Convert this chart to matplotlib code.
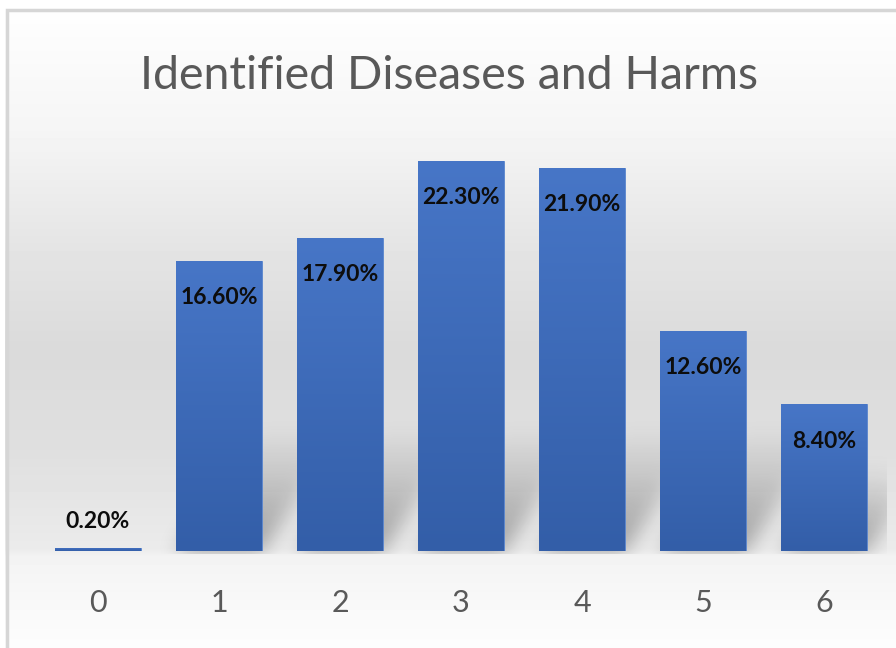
import numpy as np
import matplotlib
matplotlib.use("Agg")
import matplotlib.pyplot as plt
from matplotlib.patches import Rectangle

# ---- data ----
categories = ["0", "1", "2", "3", "4", "5", "6"]
values = [0.2, 16.6, 17.9, 22.3, 21.9, 12.6, 8.4]
value_labels = ["0.20%", "16.60%", "17.90%", "22.30%", "21.90%", "12.60%", "8.40%"]
title = "Identified Diseases and Harms"

W, H, DPI = 896, 648, 100
fig = plt.figure(figsize=(W / DPI, H / DPI), dpi=DPI)
fig.patch.set_facecolor("white")

# ---- main axes ----
ax = fig.add_axes([37.5 / W, (H - 551) / H, 847 / W, 437.25 / H])
ax.set_facecolor("none")
x = np.arange(len(categories))
ax.set_xlim(-0.5, len(categories) - 0.5)
ax.set_ylim(0, 25)
bar_w = 0.71

# ---- background: chart-area gradient and floor ----
rows = np.arange(H, dtype=float)
stops_y = [0, 10, 130, 250, 350, 450, 549, 556, 600, 648]
stops_v = [255, 255, 246, 229, 219, 224, 236, 244, 249, 254]
col = np.interp(rows, stops_y, stops_v)
bg = np.repeat(col[:, None], W, axis=1)
bg[:8, :] = 255
bg[:, :5] = 255

bax = fig.add_axes([0, 0, 1, 1], zorder=-5)
bax.imshow(np.clip(bg, 0, 255).astype(np.uint8), cmap="gray", vmin=0, vmax=255,
           extent=[0, W, 0, H], aspect="auto", interpolation="bilinear")
bax.set_xlim(0, W)
bax.set_ylim(0, H)
bax.axis("off")
bax.add_patch(Rectangle((6.5, -10), W + 20, H - 9.5 + 10, fill=False,
                        edgecolor="#d6d6d6", linewidth=2.5))

# ---- perspective shadows behind the bars (soft, fading upward) ----
fig.canvas.draw()
shadow = np.zeros((H, W))
XX, YY = np.meshgrid(np.arange(W, dtype=float), np.arange(H, dtype=float))
slope = 1.5
base_row = 551
for xi, v in zip(x, values):
    (px0, pb), (px1, pt) = ax.transData.transform([(xi - bar_w / 2, 0), (xi + bar_w / 2, v)])
    yb = H - pb
    base_row = yb
    h = pt - pb
    dmax = min(0.6 * h, 125)
    if dmax < 5:
        continue
    d = yb - YY
    shift = d / slope
    inside = (d >= 0) & (d <= dmax) & (XX >= px0 + shift) & (XX <= px1 + shift)
    a = np.where(inside, (1 - np.clip(d / dmax, 0, 1)) ** 1.1, 0.0)
    shadow = np.maximum(shadow, a)

sig = 10.0
k = np.arange(-3 * sig, 3 * sig + 1)
kern = np.exp(-k ** 2 / (2 * sig ** 2))
kern /= kern.sum()
shadow = np.apply_along_axis(lambda r: np.convolve(r, kern, mode="same"), 1, shadow)
shadow = np.apply_along_axis(lambda c: np.convolve(c, kern, mode="same"), 0, shadow)
shadow[:, 887:] = 0
shadow[int(base_row) + 3:, :] = 0
rgba = np.zeros((H, W, 4))
rgba[..., 3] = np.clip(0.34 * shadow, 0, 1)
sax = fig.add_axes([0, 0, 1, 1], zorder=-4)
sax.imshow(rgba, extent=[0, W, 0, H], aspect="auto", interpolation="bilinear")
sax.set_xlim(0, W)
sax.set_ylim(0, H)
sax.axis("off")

# ---- bars with vertical gradient ----
bars = ax.bar(x, values, width=bar_w, color="#3d6bb9", edgecolor="#5a86cf",
              linewidth=0.6, zorder=2)
top_c = np.array([0x47, 0x76, 0xc7]) / 255
bot_c = np.array([0x33, 0x5e, 0xa8]) / 255
grad = np.linspace(0, 1, 256)[:, None]
grad_img = (top_c[None, :] * (1 - grad) + bot_c[None, :] * grad)[:, None, :]
for rect in bars:
    x0, w, hgt = rect.get_x(), rect.get_width(), rect.get_height()
    im = ax.imshow(grad_img, extent=[x0, x0 + w, 0, hgt], aspect="auto",
                   origin="upper", zorder=3, interpolation="bilinear")
    im.set_clip_path(rect)
ax.set_xlim(-0.5, len(categories) - 0.5)
ax.set_ylim(0, 25)
ax.set_aspect("auto")

# ---- value labels ----
for xi, v, lab in zip(x, values, value_labels):
    off = 26 if v < 2 else -37
    ax.annotate(lab, (xi, v), xytext=(0, off), textcoords="offset pixels",
                ha="center", va="center", fontsize=16.5, fontweight="bold",
                family="Lato", color="#0d0d0d", zorder=5)

# ---- axes styling ----
ax.set_xticks(x)
ax.set_xticklabels(categories, fontsize=22, family="Lato", color="#595959")
ax.tick_params(axis="x", length=0, pad=27)
ax.set_yticks([])
for s in ax.spines.values():
    s.set_visible(False)

fig.text(449 / W, 1 - 76 / H, title, ha="center", va="center", fontsize=33.5,
         family="Lato", color="#595959")

fig.savefig("out.png", dpi=DPI)
